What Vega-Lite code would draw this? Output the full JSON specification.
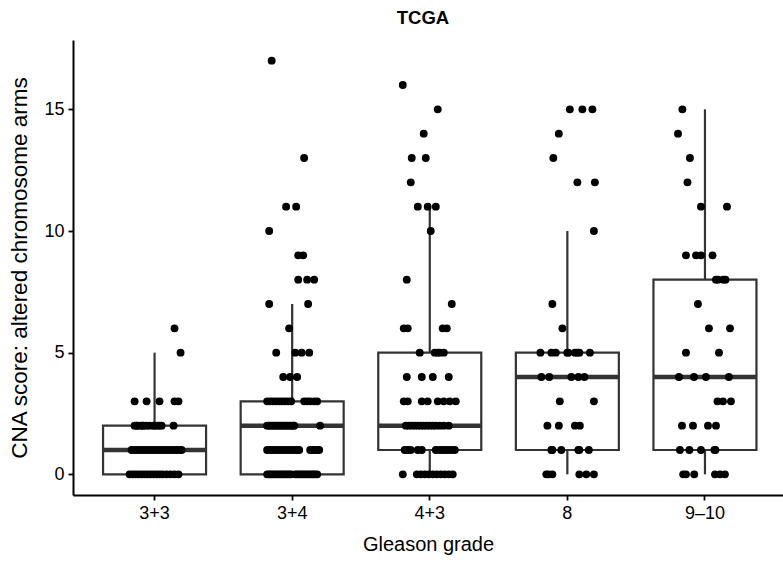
{
  "$schema": "https://vega.github.io/schema/vega-lite/v6.json",
  "width": 710,
  "height": 455,
  "autosize": {"type": "none"},
  "padding": {"left": 73, "top": 40, "right": 0, "bottom": 68},
  "background": "white",
  "title": {"text": "TCGA", "fontSize": 18.5, "fontWeight": "bold", "font": "Liberation Sans", "color": "black", "anchor": "middle", "dx": -5, "offset": 13},
  "config": {
    "view": {"stroke": null},
    "font": "Liberation Sans",
    "axis": {
      "grid": false,
      "domainColor": "black",
      "domainWidth": 2,
      "tickColor": "black",
      "tickWidth": 1.8,
      "tickSize": 5,
      "labelColor": "black",
      "labelFont": "Liberation Sans",
      "labelFontSize": 18,
      "titleFont": "Liberation Sans",
      "titleFontWeight": "normal",
      "titleColor": "black"
    }
  },
  "data": {"values": [
    {"g":"3+3","v":0,"j":-0.182},{"g":"3+3","v":0,"j":-0.160},{"g":"3+3","v":0,"j":-0.138},{"g":"3+3","v":0,"j":-0.116},{"g":"3+3","v":0,"j":-0.094},{"g":"3+3","v":0,"j":-0.073},{"g":"3+3","v":0,"j":-0.051},{"g":"3+3","v":0,"j":-0.029},{"g":"3+3","v":0,"j":-0.007},{"g":"3+3","v":0,"j":0.015},{"g":"3+3","v":0,"j":0.036},{"g":"3+3","v":0,"j":0.058},{"g":"3+3","v":0,"j":0.087},{"g":"3+3","v":0,"j":0.116},{"g":"3+3","v":0,"j":0.145},{"g":"3+3","v":0,"j":0.174},
    {"g":"3+3","v":1,"j":-0.167},{"g":"3+3","v":1,"j":-0.145},{"g":"3+3","v":1,"j":-0.124},{"g":"3+3","v":1,"j":-0.102},{"g":"3+3","v":1,"j":-0.080},{"g":"3+3","v":1,"j":-0.058},{"g":"3+3","v":1,"j":-0.036},{"g":"3+3","v":1,"j":-0.015},{"g":"3+3","v":1,"j":0.007},{"g":"3+3","v":1,"j":0.029},{"g":"3+3","v":1,"j":0.051},{"g":"3+3","v":1,"j":0.073},{"g":"3+3","v":1,"j":0.094},{"g":"3+3","v":1,"j":0.116},{"g":"3+3","v":1,"j":0.138},{"g":"3+3","v":1,"j":0.160},{"g":"3+3","v":1,"j":0.182},{"g":"3+3","v":1,"j":0.196},
    {"g":"3+3","v":2,"j":-0.145},{"g":"3+3","v":2,"j":-0.131},{"g":"3+3","v":2,"j":-0.124},{"g":"3+3","v":2,"j":-0.102},{"g":"3+3","v":2,"j":-0.087},{"g":"3+3","v":2,"j":-0.080},{"g":"3+3","v":2,"j":-0.058},{"g":"3+3","v":2,"j":-0.036},{"g":"3+3","v":2,"j":-0.007},{"g":"3+3","v":2,"j":0.0},{"g":"3+3","v":2,"j":0.022},{"g":"3+3","v":2,"j":0.036},{"g":"3+3","v":2,"j":0.051},{"g":"3+3","v":2,"j":0.138},
    {"g":"3+3","v":3,"j":-0.145},{"g":"3+3","v":3,"j":-0.058},{"g":"3+3","v":3,"j":0.036},{"g":"3+3","v":3,"j":0.145},{"g":"3+3","v":3,"j":0.174},
    {"g":"3+3","v":5,"j":0.189},{"g":"3+3","v":6,"j":0.145},

    {"g":"3+4","v":17,"j":-0.149},{"g":"3+4","v":13,"j":0.087},{"g":"3+4","v":11,"j":-0.044},{"g":"3+4","v":11,"j":0.029},{"g":"3+4","v":10,"j":-0.167},
    {"g":"3+4","v":9,"j":0.044},{"g":"3+4","v":9,"j":0.080},{"g":"3+4","v":8,"j":0.044},{"g":"3+4","v":8,"j":0.109},{"g":"3+4","v":8,"j":0.160},
    {"g":"3+4","v":7,"j":-0.167},{"g":"3+4","v":7,"j":0.116},{"g":"3+4","v":6,"j":-0.022},
    {"g":"3+4","v":5,"j":-0.116},{"g":"3+4","v":5,"j":0.022},{"g":"3+4","v":5,"j":0.069},{"g":"3+4","v":5,"j":0.124},
    {"g":"3+4","v":4,"j":-0.065},{"g":"3+4","v":4,"j":-0.015},{"g":"3+4","v":4,"j":0.036},
    {"g":"3+4","v":3,"j":-0.182},{"g":"3+4","v":3,"j":-0.160},{"g":"3+4","v":3,"j":-0.138},{"g":"3+4","v":3,"j":-0.116},{"g":"3+4","v":3,"j":-0.094},{"g":"3+4","v":3,"j":-0.073},{"g":"3+4","v":3,"j":-0.051},{"g":"3+4","v":3,"j":-0.029},{"g":"3+4","v":3,"j":-0.007},{"g":"3+4","v":3,"j":0.087},{"g":"3+4","v":3,"j":0.109},{"g":"3+4","v":3,"j":0.131},{"g":"3+4","v":3,"j":0.160},{"g":"3+4","v":3,"j":0.182},
    {"g":"3+4","v":2,"j":-0.182},{"g":"3+4","v":2,"j":-0.167},{"g":"3+4","v":2,"j":-0.153},{"g":"3+4","v":2,"j":-0.138},{"g":"3+4","v":2,"j":-0.124},{"g":"3+4","v":2,"j":-0.109},{"g":"3+4","v":2,"j":-0.094},{"g":"3+4","v":2,"j":-0.080},{"g":"3+4","v":2,"j":-0.065},{"g":"3+4","v":2,"j":-0.051},{"g":"3+4","v":2,"j":-0.036},{"g":"3+4","v":2,"j":-0.022},{"g":"3+4","v":2,"j":-0.007},{"g":"3+4","v":2,"j":0.007},{"g":"3+4","v":2,"j":0.015},{"g":"3+4","v":2,"j":0.203},
    {"g":"3+4","v":1,"j":-0.182},{"g":"3+4","v":1,"j":-0.160},{"g":"3+4","v":1,"j":-0.138},{"g":"3+4","v":1,"j":-0.116},{"g":"3+4","v":1,"j":-0.094},{"g":"3+4","v":1,"j":-0.073},{"g":"3+4","v":1,"j":-0.051},{"g":"3+4","v":1,"j":-0.029},{"g":"3+4","v":1,"j":-0.007},{"g":"3+4","v":1,"j":0.015},{"g":"3+4","v":1,"j":0.036},{"g":"3+4","v":1,"j":0.051},{"g":"3+4","v":1,"j":0.131},{"g":"3+4","v":1,"j":0.145},{"g":"3+4","v":1,"j":0.160},{"g":"3+4","v":1,"j":0.182},{"g":"3+4","v":1,"j":0.196},
    {"g":"3+4","v":0,"j":-0.182},{"g":"3+4","v":0,"j":-0.167},{"g":"3+4","v":0,"j":-0.153},{"g":"3+4","v":0,"j":-0.138},{"g":"3+4","v":0,"j":-0.124},{"g":"3+4","v":0,"j":-0.109},{"g":"3+4","v":0,"j":-0.094},{"g":"3+4","v":0,"j":-0.080},{"g":"3+4","v":0,"j":-0.065},{"g":"3+4","v":0,"j":-0.051},{"g":"3+4","v":0,"j":-0.036},{"g":"3+4","v":0,"j":-0.022},{"g":"3+4","v":0,"j":-0.007},{"g":"3+4","v":0,"j":0.022},{"g":"3+4","v":0,"j":0.036},{"g":"3+4","v":0,"j":0.051},{"g":"3+4","v":0,"j":0.065},{"g":"3+4","v":0,"j":0.080},{"g":"3+4","v":0,"j":0.094},{"g":"3+4","v":0,"j":0.109},{"g":"3+4","v":0,"j":0.124},{"g":"3+4","v":0,"j":0.138},{"g":"3+4","v":0,"j":0.153},{"g":"3+4","v":0,"j":0.167},{"g":"3+4","v":0,"j":0.182},

    {"g":"4+3","v":16,"j":-0.196},{"g":"4+3","v":15,"j":0.058},{"g":"4+3","v":14,"j":-0.044},{"g":"4+3","v":13,"j":-0.131},{"g":"4+3","v":13,"j":-0.029},{"g":"4+3","v":12,"j":-0.138},
    {"g":"4+3","v":11,"j":-0.087},{"g":"4+3","v":11,"j":-0.015},{"g":"4+3","v":11,"j":0.044},{"g":"4+3","v":10,"j":0.007},{"g":"4+3","v":8,"j":-0.167},{"g":"4+3","v":7,"j":0.160},
    {"g":"4+3","v":6,"j":-0.189},{"g":"4+3","v":6,"j":-0.160},{"g":"4+3","v":6,"j":0.094},{"g":"4+3","v":6,"j":0.124},
    {"g":"4+3","v":5,"j":-0.073},{"g":"4+3","v":5,"j":0.036},{"g":"4+3","v":5,"j":0.058},{"g":"4+3","v":5,"j":0.073},{"g":"4+3","v":5,"j":0.102},
    {"g":"4+3","v":4,"j":-0.167},{"g":"4+3","v":4,"j":-0.058},{"g":"4+3","v":4,"j":0.022},{"g":"4+3","v":4,"j":0.138},
    {"g":"4+3","v":3,"j":-0.189},{"g":"4+3","v":3,"j":-0.160},{"g":"4+3","v":3,"j":-0.058},{"g":"4+3","v":3,"j":-0.015},{"g":"4+3","v":3,"j":0.058},{"g":"4+3","v":3,"j":0.102},{"g":"4+3","v":3,"j":0.145},{"g":"4+3","v":3,"j":0.189},
    {"g":"4+3","v":2,"j":-0.174},{"g":"4+3","v":2,"j":-0.153},{"g":"4+3","v":2,"j":-0.131},{"g":"4+3","v":2,"j":-0.109},{"g":"4+3","v":2,"j":-0.087},{"g":"4+3","v":2,"j":-0.065},{"g":"4+3","v":2,"j":-0.044},{"g":"4+3","v":2,"j":-0.022},{"g":"4+3","v":2,"j":0.0},{"g":"4+3","v":2,"j":0.022},{"g":"4+3","v":2,"j":0.044},{"g":"4+3","v":2,"j":0.073},{"g":"4+3","v":2,"j":0.102},{"g":"4+3","v":2,"j":0.138},
    {"g":"4+3","v":1,"j":-0.182},{"g":"4+3","v":1,"j":-0.160},{"g":"4+3","v":1,"j":-0.138},{"g":"4+3","v":1,"j":-0.087},{"g":"4+3","v":1,"j":-0.058},{"g":"4+3","v":1,"j":0.044},{"g":"4+3","v":1,"j":0.073},{"g":"4+3","v":1,"j":0.094},{"g":"4+3","v":1,"j":0.116},{"g":"4+3","v":1,"j":0.138},{"g":"4+3","v":1,"j":0.160},{"g":"4+3","v":1,"j":0.182},
    {"g":"4+3","v":0,"j":-0.196},{"g":"4+3","v":0,"j":-0.094},{"g":"4+3","v":0,"j":-0.065},{"g":"4+3","v":0,"j":-0.036},{"g":"4+3","v":0,"j":-0.007},{"g":"4+3","v":0,"j":0.022},{"g":"4+3","v":0,"j":0.051},{"g":"4+3","v":0,"j":0.080},{"g":"4+3","v":0,"j":0.109},{"g":"4+3","v":0,"j":0.138},{"g":"4+3","v":0,"j":0.167},

    {"g":"8","v":15,"j":0.018},{"g":"8","v":15,"j":0.109},{"g":"8","v":15,"j":0.182},{"g":"8","v":14,"j":-0.062},{"g":"8","v":13,"j":-0.102},
    {"g":"8","v":12,"j":0.073},{"g":"8","v":12,"j":0.200},{"g":"8","v":10,"j":0.193},{"g":"8","v":7,"j":-0.109},{"g":"8","v":6,"j":-0.036},
    {"g":"8","v":5,"j":-0.196},{"g":"8","v":5,"j":-0.116},{"g":"8","v":5,"j":-0.084},{"g":"8","v":5,"j":0.0},{"g":"8","v":5,"j":0.007},{"g":"8","v":5,"j":0.055},{"g":"8","v":5,"j":0.073},{"g":"8","v":5,"j":0.087},{"g":"8","v":5,"j":0.164},
    {"g":"8","v":4,"j":-0.189},{"g":"8","v":4,"j":-0.131},{"g":"8","v":4,"j":0.029},{"g":"8","v":4,"j":0.080},{"g":"8","v":4,"j":0.124},
    {"g":"8","v":3,"j":-0.055},{"g":"8","v":3,"j":0.193},
    {"g":"8","v":2,"j":-0.145},{"g":"8","v":2,"j":-0.062},{"g":"8","v":2,"j":0.055},{"g":"8","v":2,"j":0.091},
    {"g":"8","v":1,"j":-0.116},{"g":"8","v":1,"j":-0.109},{"g":"8","v":1,"j":-0.044},{"g":"8","v":1,"j":0.080},{"g":"8","v":1,"j":0.087},{"g":"8","v":1,"j":0.156},
    {"g":"8","v":0,"j":-0.153},{"g":"8","v":0,"j":-0.138},{"g":"8","v":0,"j":-0.109},{"g":"8","v":0,"j":0.087},{"g":"8","v":0,"j":0.138},{"g":"8","v":0,"j":0.193},

    {"g":"9–10","v":15,"j":-0.164},{"g":"9–10","v":14,"j":-0.196},{"g":"9–10","v":13,"j":-0.109},{"g":"9–10","v":12,"j":-0.127},
    {"g":"9–10","v":11,"j":-0.029},{"g":"9–10","v":11,"j":0.160},
    {"g":"9–10","v":9,"j":-0.138},{"g":"9–10","v":9,"j":-0.065},{"g":"9–10","v":9,"j":-0.029},{"g":"9–10","v":9,"j":0.055},
    {"g":"9–10","v":8,"j":0.080},{"g":"9–10","v":8,"j":0.094},{"g":"9–10","v":8,"j":0.134},{"g":"9–10","v":8,"j":0.149},
    {"g":"9–10","v":7,"j":-0.051},{"g":"9–10","v":6,"j":0.029},{"g":"9–10","v":6,"j":0.182},
    {"g":"9–10","v":5,"j":-0.138},{"g":"9–10","v":5,"j":0.102},
    {"g":"9–10","v":4,"j":-0.189},{"g":"9–10","v":4,"j":-0.080},{"g":"9–10","v":4,"j":0.007},{"g":"9–10","v":4,"j":0.174},
    {"g":"9–10","v":3,"j":0.091},{"g":"9–10","v":3,"j":0.131},{"g":"9–10","v":3,"j":0.189},
    {"g":"9–10","v":2,"j":-0.167},{"g":"9–10","v":2,"j":-0.087},{"g":"9–10","v":2,"j":0.022},{"g":"9–10","v":2,"j":0.080},
    {"g":"9–10","v":1,"j":-0.182},{"g":"9–10","v":1,"j":-0.113},{"g":"9–10","v":1,"j":-0.029},{"g":"9–10","v":1,"j":0.069},{"g":"9–10","v":1,"j":0.076},
    {"g":"9–10","v":0,"j":-0.158},{"g":"9–10","v":0,"j":-0.138},{"g":"9–10","v":0,"j":-0.078},{"g":"9–10","v":0,"j":0.073},{"g":"9–10","v":0,"j":0.109},{"g":"9–10","v":0,"j":0.145}
  ]},
  "encoding": {
    "x": {
      "field": "g", "type": "nominal",
      "sort": ["3+3", "3+4", "4+3", "8", "9–10"],
      "scale": {"type": "band", "paddingInner": 0, "paddingOuter": 0.08, "align": 0.58},
      "axis": {"title": "Gleason grade", "titleFontSize": 20, "labelAngle": 0, "labelPadding": 4, "titlePadding": 12}
    },
    "y": {
      "field": "v", "type": "quantitative",
      "scale": {"domain": [-0.85, 17.85], "nice": false, "zero": false},
      "axis": {"title": "CNA score: altered chromosome arms", "titleFontSize": 22.5, "values": [0, 5, 10, 15], "labelPadding": 4, "titlePadding": 12}
    }
  },
  "layer": [
    {
      "mark": {
        "type": "boxplot",
        "extent": 1.5,
        "size": 103,
        "outliers": false,
        "box": {"fill": "white", "stroke": "#333333", "strokeWidth": 2.2, "opacity": 1},
        "median": {"color": "#333333", "thickness": 4.5, "opacity": 1},
        "rule": {"color": "#333333", "strokeWidth": 2.2, "opacity": 1}
      }
    },
    {
      "mark": {"type": "circle", "size": 62, "color": "black", "opacity": 1},
      "encoding": {
        "xOffset": {"field": "j", "type": "quantitative", "scale": {"domain": [-0.5, 0.5]}}
      }
    }
  ]
}
